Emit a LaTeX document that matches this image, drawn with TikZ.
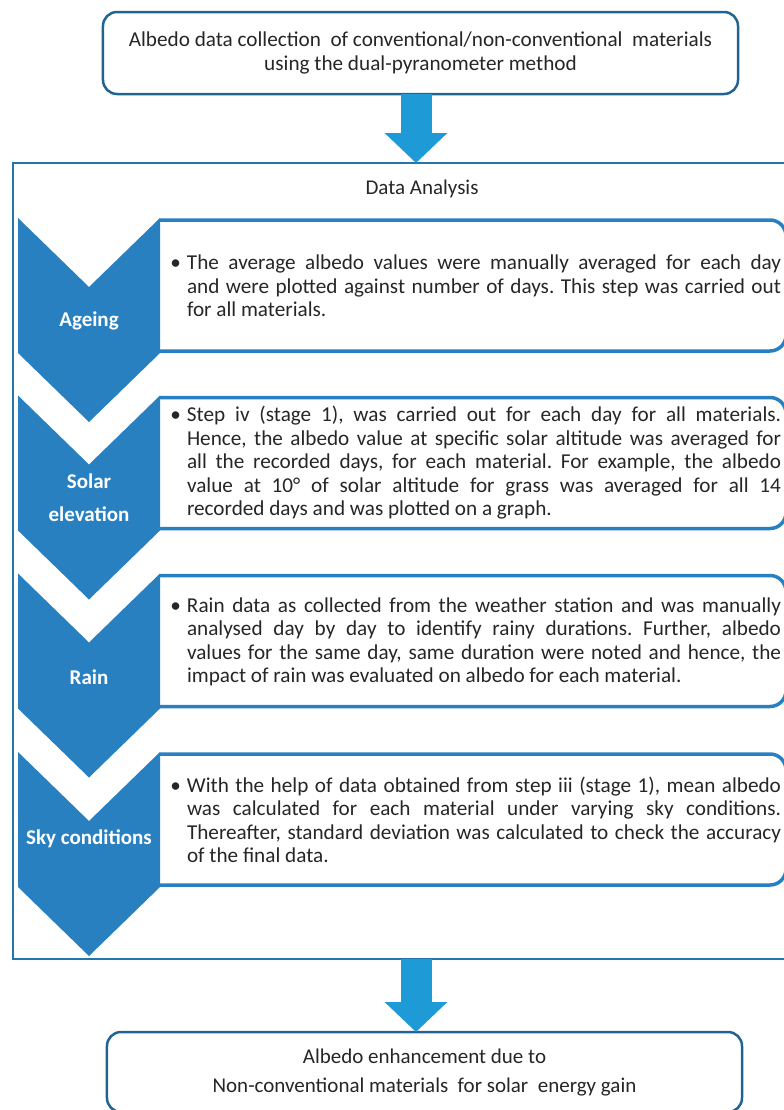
\documentclass[tikz,border=0pt]{standalone}
\usepackage{fontspec}
\setmainfont{Carlito}
\usetikzlibrary{arrows.meta}
\definecolor{chev}{RGB}{41,128,192}
\definecolor{arrowc}{RGB}{30,155,215}
\definecolor{framec}{RGB}{35,118,168}
\definecolor{endline}{RGB}{33,100,145}
\definecolor{txt}{RGB}{38,38,38}
\newcommand\bulletpar{\tolerance=10000\hbadness=10000\leavevmode\llap{\textbullet\hspace{6bp}}}
\frenchspacing
\begin{document}
\frenchspacing
\begin{tikzpicture}[x=1bp,y=-1bp,
  every node/.style={inner sep=0pt, outer sep=0pt, text=txt, font=\fontsize{21bp}{24bp}\selectfont},
  bodytext/.style={anchor=west, text width=594bp, align=justify, font=\fontsize{21.2bp}{23.5bp}\selectfont},
  chevlabel/.style={text=white, align=center, font=\fontsize{21bp}{33bp}\selectfont\bfseries},
  chevshape/.style={fill=chev},
  stepline/.style={draw=chev, line width=3.5bp, rounded corners=16bp},
  endbox/.style={draw=endline, line width=2.5bp, rounded corners=14bp, align=center},
  blockarrow/.style={draw=arrowc, line width=31bp, -{Triangle[width=61bp,length=30bp]}}
]
\useasboundingbox (0,0) rectangle (784,1110);
\clip (0,0) rectangle (784,1110);

% top box
\node[endbox, minimum width=635bp, minimum height=82bp, font=\fontsize{21.2bp}{24bp}\selectfont] (top) at (420.5,53)
  {Albedo data collection\ \ of conventional/non-conventional\ \ materials\\using the dual-pyranometer method};

% frame
\node[draw=framec, line width=2bp, minimum width=790bp, minimum height=796bp, anchor=north west] (frame) at (13,163) {};
\node (title) at (422,189) {Data Analysis};

% bottom box
\node[endbox, minimum width=635bp, minimum height=80bp, font=\fontsize{21bp}{29bp}\selectfont] (bottom) at (424.5,1072)
  {Albedo enhancement due to\\Non-conventional materials\ \ for solar\ \ energy gain};

% arrows
\coordinate (ax) at (416,0);
\draw[blockarrow] (ax |- top.south) -- (ax |- frame.north);
\draw[blockarrow] (ax |- frame.south) -- (ax |- bottom.north);

% step boxes outlines
\foreach \t in {218,395.5,573.5,752}{
  \draw[stepline] (160,\t+2) -| (786,\t+133) -- (160,\t+133);
}
% chevrons
\foreach \t in {218,395.5,573.5,752}{
  \fill[chevshape] (18,\t) -- (89,\t+69) -- (160,\t) -- (160,\t+135) -- (89,\t+204) -- (18,\t+135) -- cycle;
}

\node[chevlabel] (l1) at (89,321) {Ageing};
\node[chevlabel] (l2) at (89,498) {Solar\\elevation};
\node[chevlabel] (l3) at (89,677) {Rain};
\node[chevlabel] (l4) at (89,839) {Sky conditions};

\node[bodytext] (d1) at (187,286) {\bulletpar The average albedo values were manually averaged for each day\linebreak and were plotted against number of days. This step was carried out\linebreak for all materials.};
\node[bodytext] (d2) at (187,463) {\bulletpar Step iv (stage 1), was carried out for each day for all materials.\linebreak Hence, the albedo value at specific solar altitude was averaged for\linebreak all the recorded days, for each material. For example, the albedo\linebreak value at 10° of solar altitude for grass was averaged for all 14\linebreak recorded days and was plotted on a graph.};
\node[bodytext] (d3) at (187,642) {\bulletpar Rain data as collected from the weather station and was manually\linebreak analysed day by day to identify rainy durations. Further, albedo\linebreak values for the same day, same duration were noted and hence, the\linebreak impact of rain was evaluated on albedo for each material.};
\node[bodytext] (d4) at (187,820) {\bulletpar With the help of data obtained from step iii (stage 1), mean albedo\linebreak was calculated for each material under varying sky conditions.\linebreak Thereafter, standard deviation was calculated to check the accuracy\linebreak of the final data.};
\end{tikzpicture}
\end{document}
